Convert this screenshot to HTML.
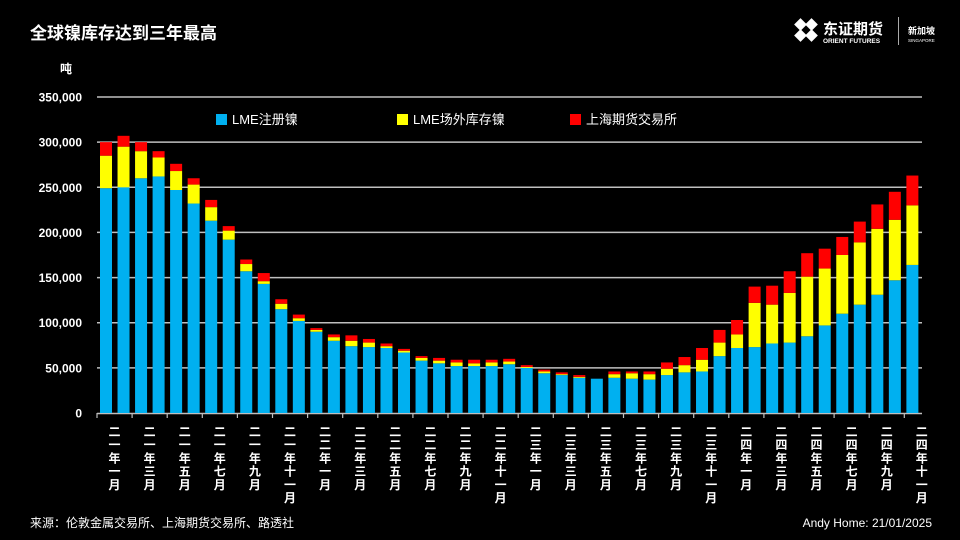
<!DOCTYPE html>
<html><head><meta charset="utf-8"><style>
html,body{margin:0;padding:0;background:#000;}
body{width:960px;height:540px;overflow:hidden;position:relative;font-family:"Liberation Sans","Noto Sans CJK SC",sans-serif;color:#fff;}
</style></head><body>
<svg id="c" width="960" height="540" xmlns="http://www.w3.org/2000/svg" style="position:absolute;left:0;top:0">
<rect width="960" height="540" fill="#000"/>
<text x="30" y="39" font-size="17" font-weight="bold" fill="#fff" font-family="Liberation Sans, Noto Sans CJK SC, sans-serif">全球镍库存达到三年最高</text>
<text x="60" y="73" font-size="12" font-weight="bold" fill="#fff" font-family="Liberation Sans, Noto Sans CJK SC, sans-serif">吨</text>
<g transform="translate(793,17)" fill="#fff">
<rect x="3" y="3" width="9" height="9" transform="rotate(45 7.5 7.5)"/>
<rect x="14" y="3" width="9" height="9" transform="rotate(45 18.5 7.5)"/>
<rect x="3" y="14" width="9" height="9" transform="rotate(45 7.5 18.5)"/>
<rect x="14" y="14" width="9" height="9" transform="rotate(45 18.5 18.5)"/>
</g>
<text x="823" y="34" font-size="15" font-weight="bold" fill="#fff" font-family="Liberation Sans, Noto Sans CJK SC, sans-serif">东证期货</text>
<text x="823" y="43" font-size="6.5" font-weight="bold" fill="#fff" font-family="Liberation Sans, sans-serif">ORIENT FUTURES</text>
<rect x="898" y="17" width="1" height="28" fill="#aaa"/>
<text x="908" y="34" font-size="9" font-weight="bold" fill="#fff" font-family="Liberation Sans, Noto Sans CJK SC, sans-serif">新加坡</text>
<text x="908" y="42" font-size="4.5" fill="#fff" font-family="Liberation Sans, sans-serif">SINGAPORE</text>
<g id="grid"></g><g id="bars"></g><g id="lab"></g>
<rect x="216" y="114" width="11" height="11" fill="#00b0f0"/>
<text x="232" y="124" font-size="13" fill="#fff" font-family="Liberation Sans, Noto Sans CJK SC, sans-serif">LME注册镍</text>
<rect x="397" y="114" width="11" height="11" fill="#ffff00"/>
<text x="413" y="124" font-size="13" fill="#fff" font-family="Liberation Sans, Noto Sans CJK SC, sans-serif">LME场外库存镍</text>
<rect x="570" y="114" width="11" height="11" fill="#ff0000"/>
<text x="586" y="124" font-size="13" fill="#fff" font-family="Liberation Sans, Noto Sans CJK SC, sans-serif">上海期货交易所</text>
<text x="30" y="527" font-size="12" fill="#fff" font-family="Liberation Sans, Noto Sans CJK SC, sans-serif">来源：伦敦金属交易所、上海期货交易所、路透社</text>
<text x="932" y="527" font-size="12" fill="#fff" text-anchor="end" font-family="Liberation Sans, sans-serif">Andy Home: 21/01/2025</text>
</svg>
<script>
var NS="http://www.w3.org/2000/svg";
function el(p,t,a,txt){var e=document.createElementNS(NS,t);for(var k in a)e.setAttribute(k,a[k]);if(txt!=null)e.textContent=txt;p.appendChild(e);return e;}
var y0=413,ppk=316/350;
function Y(v){return y0-v*ppk;}
var g=document.getElementById('grid');
for(var i=1;i<=7;i++){var v=i*50;el(g,'line',{x1:97,x2:922,y1:Y(v),y2:Y(v),stroke:'#bfbfbf','stroke-width':1.5});}
for(var i=0;i<=7;i++){var v=i*50;el(g,'text',{x:82,y:Y(v)+4.5,'font-size':12,'font-weight':'bold',fill:'#fff','text-anchor':'end','font-family':'Liberation Sans, sans-serif'},v==0?'0':v+',000');}
el(g,'line',{x1:97,x2:922,y1:413.5,y2:413.5,stroke:'#bfbfbf','stroke-width':1.5});
for(var k=0;k<=23;k++){var x=97+k*35.1;el(g,'line',{x1:x,x2:x,y1:413,y2:418,stroke:'#bfbfbf','stroke-width':1.2});}
var d=[[249,285,300],[250,295,307],[260,290,300],[262,283,290],[247,268,276],[232,253,260],[213,228,236],[192,202,207],[157,165,170],[143,146,155],[115,121,126],[102,105,109],[90,92,94],[80,84,87],[74,80,86],[73,78,82],[72,74,77],[67,69,71],[58,61,63],[55,58,61],[52,56,59],[52,55,59],[52,56,59],[54,57,60],[50,51,53],[44,46,48],[42,43,45],[39,40,42],[38,38,38],[39,43,46],[38,44,46],[37,43,46],[42,49,56],[45,53,62],[46,59,72],[63,78,92],[72,87,103],[73,122,140],[77,120,141],[78,133,157],[85,151,177],[97,160,182],[110,175,195],[120,189,212],[131,204,231],[147,214,245],[164,230,263]];
var b=document.getElementById('bars');
for(var i=0;i<d.length;i++){var cx=106+i*17.53,x=cx-6,w=12,a=d[i];
el(b,'rect',{x:x,y:Y(a[0]),width:w,height:a[0]*ppk,fill:'#00b0f0'});
if(a[1]>a[0])el(b,'rect',{x:x,y:Y(a[1]),width:w,height:(a[1]-a[0])*ppk,fill:'#ffff00'});
if(a[2]>a[1])el(b,'rect',{x:x,y:Y(a[2]),width:w,height:(a[2]-a[1])*ppk,fill:'#ff0000'});}
var L=document.getElementById('lab'),yrs=['二一','二二','二三','二四'],ms=['一','三','五','七','九','十一'];
for(var k=0;k<24;k++){var s=yrs[Math.floor(k/6)]+'年'+ms[k%6]+'月',x=114.5+k*35.1;
for(var j=0;j<s.length;j++)el(L,'text',{x:x,y:436+j*13.2,'font-size':12,'font-weight':'bold',fill:'#fff','text-anchor':'middle','font-family':'Noto Sans CJK SC, sans-serif'},s[j]);}
</script>
</body></html>
